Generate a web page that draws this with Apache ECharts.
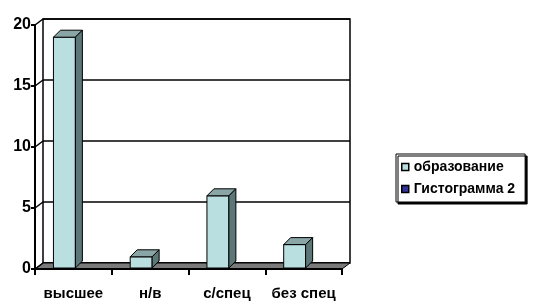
<!DOCTYPE html>
<html>
<head>
<meta charset="utf-8">
<script src="https://cdn.jsdelivr.net/npm/echarts@6/dist/echarts.min.js"></script>
<style>
  html, body { margin: 0; padding: 0; background: #fff; }
  #main { width: 536px; height: 304px; }
</style>
</head>
<body>
<div id="main"></div>
<script>
// данные диаграммы
var categories = ['высшее', 'н/в', 'с/спец', 'без спец'];
var seriesNames = ['образование', 'Гистограмма 2'];
var educationValues = [19, 1, 6, 2];
var histogram2Values = [0, 0, 0, 0];
var yTicks = [0, 5, 10, 15, 20];

var FONT = "'Liberation Sans Narrow', 'Arial Narrow', 'Liberation Sans', Arial, sans-serif";
// глубина "объёма"
var WALL_DX = 8, WALL_DY = -6;
var BAR_DX = 7, BAR_DY = -7;

var chart = echarts.init(document.getElementById('main'));

// 3D столбик: передняя грань, верх и бок
function barRenderer(slot, colors) {
  return function (params, api) {
    var v = api.value(1);
    if (!v) return null;
    var idx = api.value(0);
    var base = api.coord([idx, 0]);
    var top = api.coord([idx, v]);
    var band = api.size([1, 0])[0];
    var w = band / 3.5;
    var x0 = base[0] - w + slot * w + 2;
    var x1 = x0 + w;
    var yb = base[1] - 1, yt = top[1];
    return {
      type: 'group',
      children: [
        { type: 'rect', shape: { x: x0, y: yt, width: w, height: yb - yt },
          style: { fill: colors[0], stroke: '#000', lineWidth: 1 } },
        { type: 'polygon', shape: { points: [[x0, yt], [x1, yt], [x1 + BAR_DX, yt + BAR_DY], [x0 + BAR_DX, yt + BAR_DY]] },
          style: { fill: colors[1], stroke: '#000', lineWidth: 1 } },
        { type: 'polygon', shape: { points: [[x1, yt], [x1 + BAR_DX, yt + BAR_DY], [x1 + BAR_DX, yb + BAR_DY], [x1, yb]] },
          style: { fill: colors[2], stroke: '#000', lineWidth: 1 } }
      ]
    };
  };
}

var option = {
  animation: false,
  backgroundColor: '#fff',
  textStyle: { fontFamily: FONT },
  legend: {
    orient: 'vertical',
    left: 396,
    top: 154,
    data: [
      { name: seriesNames[0], itemStyle: { color: '#B9DFE1' } },
      { name: seriesNames[1], itemStyle: { color: '#333399' } }
    ],
    icon: 'rect',
    itemWidth: 7,
    itemHeight: 7,
    itemGap: 8,
    itemStyle: { borderColor: '#000', borderWidth: 1.5 },
    padding: [6, 10, 6, 5],
    backgroundColor: '#fff',
    borderColor: '#000',
    borderWidth: 1,
    shadowColor: '#000',
    shadowOffsetX: 2,
    shadowOffsetY: 2,
    shadowBlur: 0,
    textStyle: { fontFamily: FONT, fontWeight: 'bold', fontSize: 14, color: '#000', padding: [0, 0, 0, 0] }
  },
  grid: [
    { left: 35, right: 194, top: 25, bottom: 35 },
    { left: 35 + WALL_DX, right: 194 - WALL_DX, top: 25 + WALL_DY, bottom: 35 - WALL_DY,
      show: true, borderColor: '#000', borderWidth: 1.5, backgroundColor: 'transparent' }
  ],
  xAxis: [
    {
      type: 'category', gridIndex: 0, data: categories,
      axisLine: { lineStyle: { color: '#000', width: 2 } },
      axisTick: { show: true, length: 6, lineStyle: { color: '#000', width: 2 } },
      axisLabel: { color: '#000', fontWeight: 'bold', fontSize: 15, fontFamily: FONT, margin: 17, interval: 0 },
      z: 5
    },
    {
      type: 'category', gridIndex: 1, data: categories,
      axisLine: { show: false }, axisTick: { show: false }, axisLabel: { show: false }
    }
  ],
  yAxis: [
    {
      type: 'value', gridIndex: 0, min: 0, max: 20, interval: 5,
      axisLine: { show: true, lineStyle: { color: '#000', width: 2 } },
      axisTick: { show: true, length: 4, lineStyle: { color: '#000', width: 2 } },
      axisLabel: { color: '#000', fontWeight: 'bold', fontSize: 16, fontFamily: FONT, margin: 4 },
      splitLine: { show: false },
      z: 5
    },
    {
      type: 'value', gridIndex: 1, min: 0, max: 20, interval: 5,
      axisLine: { show: false }, axisTick: { show: false }, axisLabel: { show: false },
      splitLine: { show: true, lineStyle: { color: '#000', width: 1.5 } }
    }
  ],
  series: [
    {
      // пол
      type: 'custom', name: 'floor', xAxisIndex: 0, yAxisIndex: 0,
      data: [[0, 0]], silent: true, z: 1,
      renderItem: function (params, api) {
        var cs = params.coordSys;
        var yb = cs.y + cs.height;
        return {
          type: 'polygon',
          shape: { points: [[cs.x, yb], [cs.x + cs.width, yb], [cs.x + cs.width + WALL_DX, yb + WALL_DY], [cs.x + WALL_DX, yb + WALL_DY]] },
          style: { fill: '#7A7A7A', stroke: '#000', lineWidth: 1 }
        };
      }
    },
    {
      // левая стенка: наклонные линии сетки
      type: 'custom', name: 'wall', xAxisIndex: 0, yAxisIndex: 0,
      data: yTicks.map(function (t) { return [0, t]; }), silent: true, z: 3,
      renderItem: function (params, api) {
        var cs = params.coordSys;
        var y = api.coord([0, api.value(1)])[1];
        return {
          type: 'line',
          shape: { x1: cs.x, y1: y, x2: cs.x + WALL_DX, y2: y + WALL_DY },
          style: { stroke: '#000', lineWidth: 1.5 }
        };
      }
    },
    {
      type: 'custom', name: seriesNames[0], xAxisIndex: 0, yAxisIndex: 0, z: 4,
      itemStyle: { color: '#B9DFE1' },
      data: educationValues.map(function (v, i) { return [i, v]; }),
      renderItem: barRenderer(0, ['#B9DFE1', '#8AA5A6', '#5C7778'])
    },
    {
      type: 'custom', name: seriesNames[1], xAxisIndex: 0, yAxisIndex: 0, z: 4,
      itemStyle: { color: '#333399' },
      data: histogram2Values.map(function (v, i) { return [i, v]; }),
      renderItem: barRenderer(1, ['#333399', '#222266', '#1A1A4D'])
    }
  ]
};

chart.setOption(option);
</script>
</body>
</html>
